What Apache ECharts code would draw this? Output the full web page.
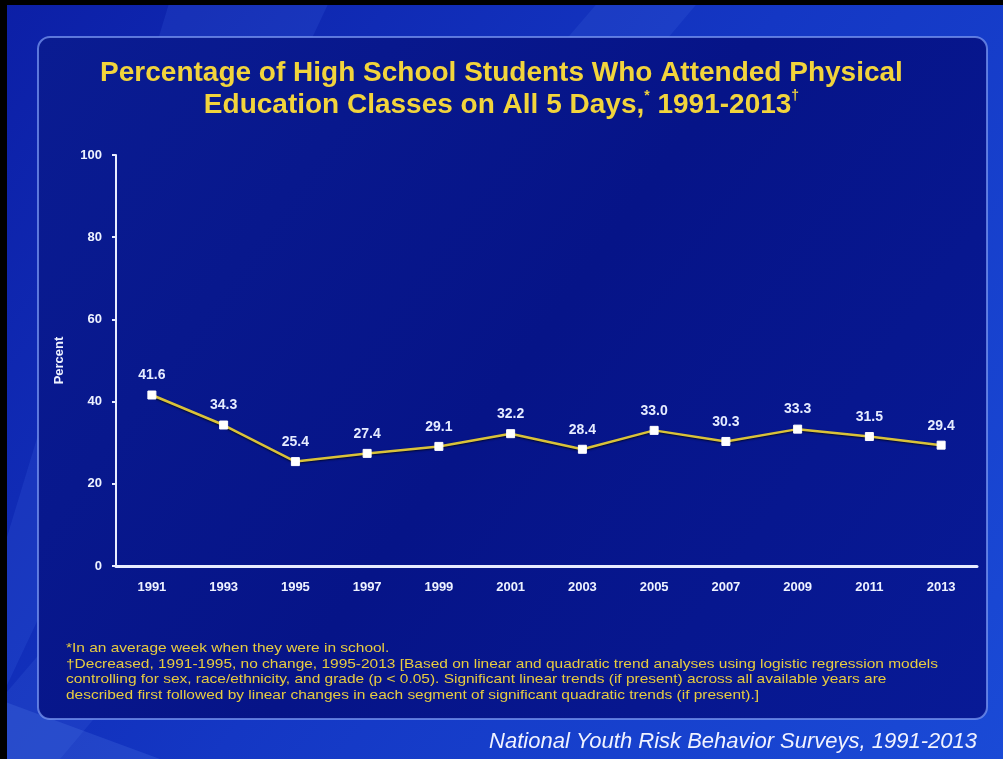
<!DOCTYPE html>
<html lang="en">
<head>
    <meta charset="utf-8">
    <title>PE Classes on All 5 Days</title>
    <style>
        html, body { margin: 0; padding: 0; background: #000; }
    </style>
</head>
<body>
    <div id="main" style="width:1003px;height:759px;"></div>
    <script src="https://cdn.jsdelivr.net/npm/echarts@6/dist/echarts.min.js"></script>
    <script type="text/javascript">
        var years = ['1991', '1993', '1995', '1997', '1999', '2001', '2003', '2005', '2007', '2009', '2011', '2013'];
        var percents = [41.6, 34.3, 25.4, 27.4, 29.1, 32.2, 28.4, 33.0, 30.3, 33.3, 31.5, 29.4];
        var yTicks = [0, 20, 40, 60, 80, 100];

        var notes = [
            '*In an average week when they were in school.',
            '\u2020Decreased, 1991-1995, no change, 1995-2013 [Based on linear and quadratic trend analyses using logistic regression models',
            'controlling for sex, race/ethnicity, and grade (p < 0.05). Significant linear trends (if present) across all available years are',
            'described first followed by linear changes in each segment of significant quadratic trends (if present).]'
        ];

        var myChart = echarts.init(document.getElementById('main'));
        var font = 'Liberation Sans, Arial, sans-serif';
        var yellow = '#f2d43c';

        var option = {
            backgroundColor: '#1535c0',
            animation: false,
            title: {
                text: 'Percentage of High School Students Who Attended Physical\nEducation Classes on All 5 Days,{s|*} 1991-2013{s|\u2020}',
                left: 'center',
                top: 52,
                textStyle: {
                    color: yellow,
                    fontFamily: font,
                    fontWeight: 'bold',
                    fontSize: 28,
                    lineHeight: 32,
                    textShadowColor: 'rgba(0,0,0,0.6)',
                    textShadowOffsetX: 1,
                    textShadowOffsetY: 1,
                    rich: {
                        s: { color: yellow, fontFamily: font, fontWeight: 'bold', fontSize: 14, verticalAlign: 'top', lineHeight: 32, padding: [0, 0, 10, 0] }
                    }
                }
            },
            grid: {
                left: 116,
                right: 26,
                top: 155,
                bottom: 193
            },
            xAxis: {
                type: 'category',
                data: years,
                boundaryGap: true,
                axisLine: { show: true, lineStyle: { color: '#e8ecff', width: 3 } },
                axisTick: { show: false },
                axisLabel: {
                    color: '#eef2ff',
                    fontFamily: font,
                    fontWeight: 'bold',
                    fontSize: 13,
                    margin: 15,
                    interval: 0
                },
                splitLine: { show: false }
            },
            yAxis: {
                type: 'value',
                min: yTicks[0],
                max: yTicks[yTicks.length - 1],
                interval: 20,
                name: 'Percent',
                nameLocation: 'middle',
                nameRotate: 90,
                nameGap: 50,
                nameTextStyle: {
                    color: '#eef2ff',
                    fontFamily: font,
                    fontWeight: 'bold',
                    fontSize: 13
                },
                axisLine: { show: true, lineStyle: { color: '#e8ecff', width: 2 } },
                axisTick: { show: true, length: 4, lineStyle: { color: '#e8ecff', width: 2 } },
                axisLabel: {
                    color: '#eef2ff',
                    fontFamily: font,
                    fontWeight: 'bold',
                    fontSize: 13,
                    margin: 14
                },
                splitLine: { show: false }
            },
            series: [{
                type: 'line',
                data: percents,
                symbol: 'rect',
                symbolSize: 8,
                itemStyle: { color: '#ffffff', borderColor: '#ffffff' },
                lineStyle: {
                    color: '#d9c23a',
                    width: 2.5,
                    shadowColor: 'rgba(0,0,0,0.7)',
                    shadowBlur: 2,
                    shadowOffsetY: 1
                },
                label: {
                    show: true,
                    position: 'top',
                    distance: 8,
                    color: '#e6ecff',
                    fontFamily: font,
                    fontWeight: 'bold',
                    fontSize: 14,
                    formatter: function (p) { return p.value.toFixed(1); }
                }
            }],
            graphic: [
                // outer gradient background
                {
                    type: 'rect', z: -10, silent: true,
                    shape: { x: 0, y: 0, width: 1003, height: 759 },
                    style: {
                        fill: new echarts.graphic.LinearGradient(0, 0, 1, 1, [
                            { offset: 0, color: '#0c1fa6' },
                            { offset: 0.5, color: '#1437c4' },
                            { offset: 1, color: '#1a4ad6' }
                        ])
                    }
                },
                // light diagonal streaks
                {
                    type: 'polygon', z: -9, silent: true,
                    shape: { points: [[170, 0], [330, 0], [0, 700], [0, 560]] },
                    style: { fill: 'rgba(90,140,255,0.12)' }
                },
                {
                    type: 'polygon', z: -9, silent: true,
                    shape: { points: [[600, 0], [700, 0], [60, 759], [0, 759], [0, 700]] },
                    style: { fill: 'rgba(110,160,255,0.10)' }
                },
                {
                    type: 'polygon', z: -9, silent: true,
                    shape: { points: [[0, 700], [160, 759], [0, 759]] },
                    style: { fill: 'rgba(120,170,255,0.15)' }
                },
                // dark panel
                {
                    type: 'rect', z: -8, silent: true,
                    shape: { x: 38, y: 37, width: 949, height: 682, r: 12 },
                    style: {
                        fill: new echarts.graphic.LinearGradient(0, 0, 1, 1, [
                            { offset: 0, color: '#0a1c92' },
                            { offset: 0.5, color: '#061488' },
                            { offset: 1, color: '#081a96' }
                        ]),
                        stroke: 'rgba(120,150,240,0.75)',
                        lineWidth: 2
                    }
                },
                // black frame edges
                {
                    type: 'rect', z: 10, silent: true,
                    shape: { x: 0, y: 0, width: 1003, height: 5 },
                    style: { fill: '#000000' }
                },
                {
                    type: 'rect', z: 10, silent: true,
                    shape: { x: 0, y: 0, width: 7, height: 759 },
                    style: { fill: '#000000' }
                },
                // footnotes (stretched sideways like the original slide)
                {
                    type: 'text', z: 5, silent: true,
                    x: 66, y: 641,
                    scaleX: 1.19,
                    style: {
                        text: notes.join('\n'),
                        fill: '#e8cc40',
                        font: '13px ' + font,
                        lineHeight: 15.5
                    }
                },
                // source
                {
                    type: 'text', z: 5, silent: true,
                    right: 26, top: 731,
                    style: {
                        text: 'National Youth Risk Behavior Surveys, 1991-2013',
                        fill: '#f0f2ff',
                        font: 'italic 22px ' + font
                    }
                }
            ]
        };

        myChart.setOption(option);
    </script>
</body>
</html>
